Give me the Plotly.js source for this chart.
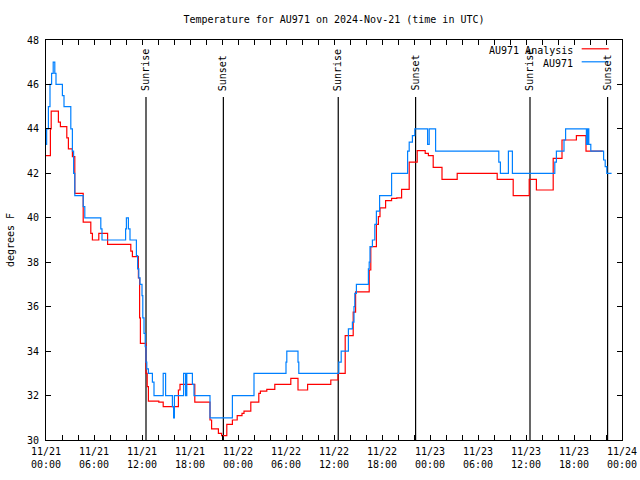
<!DOCTYPE html>
<html>
<head>
<meta charset="utf-8">
<script src="https://cdn.plot.ly/plotly-3.0.1.min.js"></script>
<style>html,body{margin:0;padding:0;background:#fff;}#chart{width:640px;height:480px;}</style>
</head>
<body>
<div id="chart"></div>
<script>
// Hours since 2024-11-21 00:00 UTC
const obsHours = [0.0,0.08,0.3,0.5,0.7,0.9,1.1,1.25,2.05,2.25,3.1,3.3,3.45,3.6,4.65,4.85,6.85,7.0,9.95,10.05,10.3,10.5,11.3,11.45,11.6,11.75,12.0,12.1,12.25,12.4,12.5,12.6,12.8,13.3,13.5,14.65,14.95,15.8,15.95,16.05,17.2,17.45,17.6,18.3,18.5,20.5,23.3,26.0,30.0,30.1,31.5,31.6,36.6,36.9,37.8,38.3,38.5,38.6,38.8,40.3,40.4,40.5,40.8,41.1,41.3,41.7,43.2,45.2,45.4,45.8,46.1,47.7,47.9,48.7,56.6,56.8,57.8,58.3,63.6,63.8,64.75,64.95,67.55,67.7,67.85,68.1,69.7,69.9,70.1,70.7];
const obsTemps = [43.3,44,45,46,46.5,47,46.5,46,45.5,45,44,43,42,41,40.5,40,39.5,39,39.5,40,39.5,39,38.3,37.7,37.3,37,36.5,35.5,34.8,34.2,33.5,33.2,33,32.6,32,33,32,31.5,31,32,33,32,33,32.5,32,31,32,33,33.5,34,33.5,33,33.5,34,35,35.3,36,36.6,37,37.7,38,38.7,39,39.7,40.3,41,42,43,43.4,43.7,44,43.3,44,43,42.5,42,43,42,42.5,43,43.5,44,43.3,44,43.3,43,42.6,42.3,42,42];

const anaHours = [0.0,0.55,0.65,1.55,1.8,2.6,2.8,3.3,3.6,4.65,5.6,5.8,6.6,7.7,10.6,10.8,11.55,11.7,11.8,12.5,12.65,12.8,14.1,14.65,16.55,16.75,18.6,20.5,20.7,21.55,21.95,22.6,23.3,23.9,24.5,24.75,25.6,26.6,26.8,27.6,28.6,30.6,31.5,32.7,35.6,36.5,37.4,38.4,38.7,40.4,40.6,41.3,41.55,41.75,42.45,43.2,43.85,44.45,45.4,46.4,47.4,47.8,48.4,49.5,51.4,56.4,58.4,60.4,61.3,63.4,64.5,66.3,67.5,69.6];
const anaTemps = [42.8,44.0,44.8,44.3,44.1,43.6,43.1,42.75,41.1,39.8,39.3,39.0,39.3,38.8,38.5,38.25,37.3,35.5,34.35,33.0,32.4,31.75,31.7,31.5,32.25,32.5,31.7,30.9,30.5,30.3,30.2,30.7,30.9,31.1,31.2,31.3,31.7,32.1,32.2,32.28,32.5,32.77,32.25,32.5,32.7,33.0,34.7,35.75,36.67,37.65,38.7,39.7,40.05,40.45,40.77,40.87,40.9,41.28,42.5,43.02,42.9,42.8,42.27,41.73,42.0,41.73,41.0,41.73,41.25,42.67,43.5,43.7,43.0,43.0];

const sunHours = [12.5, 22.17, 36.53, 46.2, 60.5, 70.2];
const sunLabels = ["Sunrise","Sunset","Sunrise","Sunset","Sunrise","Sunset"];

const xTickLabels = ["11/21<br>00:00","11/21<br>06:00","11/21<br>12:00","11/21<br>18:00","11/22<br>00:00","11/22<br>06:00","11/22<br>12:00","11/22<br>18:00","11/23<br>00:00","11/23<br>06:00","11/23<br>12:00","11/23<br>18:00","11/24<br>00:00"];
const yTicks = [30,32,34,36,38,40,42,44,46,48];

const seriesNames = ["AU971 Analysis","AU971"];
const seriesColors = ["#ff0000","#0080ff"];

const FONT = "DejaVu Sans Mono, monospace";

const tickvals = [], ticktext = [];
for (let h = 0; h <= 72; h += 2) {
  tickvals.push(h);
  ticktext.push(h % 6 === 0 ? xTickLabels[h / 6] : "");
}

const traces = [
  {x: anaHours, y: anaTemps, type: "scatter", mode: "lines", name: seriesNames[0],
   line: {color: seriesColors[0], width: 1.2, shape: "hv"}, hoverinfo: "skip"},
  {x: obsHours, y: obsTemps, type: "scatter", mode: "lines", name: seriesNames[1],
   line: {color: seriesColors[1], width: 1.2, shape: "hv"}, hoverinfo: "skip"}
];

const shapes = sunHours.map(h => ({
  type: "line", xref: "x", yref: "y", x0: h, x1: h, y0: 30, y1: 45.43,
  line: {color: "#000", width: 1.2}, layer: "below"
}));
const annotations = sunHours.map((h, i) => ({
  x: h, y: 45.62, xref: "x", yref: "y", text: sunLabels[i], textangle: -90,
  showarrow: false, xanchor: "center", yanchor: "bottom",
  font: {family: FONT, size: 10, color: "#000"}
}));

// legend (gnuplot style: text left of sample)
const legY = [0.975, 0.9425];
seriesNames.forEach((n, i) => {
  annotations.push({x: 0.918, y: legY[i], xref: "paper", yref: "paper", text: n,
    showarrow: false, xanchor: "right", yanchor: "middle",
    font: {family: FONT, size: 10, color: "#000"}});
  shapes.push({type: "line", xref: "paper", yref: "paper", x0: 0.930, x1: 0.977,
    y0: legY[i] + 0.003, y1: legY[i] + 0.003, line: {color: seriesColors[i], width: 1.2}});
});

const layout = {
  width: 640, height: 480,
  margin: {l: 46, r: 18, t: 40, b: 40, pad: 0},
  paper_bgcolor: "#fff", plot_bgcolor: "#fff",
  font: {family: FONT, size: 10, color: "#000"},
  showlegend: false,
  title: {text: "Temperature for AU971 on 2024-Nov-21 (time in UTC)",
          x: 0.5, xref: "paper", y: 0.96, yref: "container", yanchor: "middle",
          font: {family: FONT, size: 10, color: "#000"}},
  xaxis: {range: [0, 72], tickmode: "array", tickvals: tickvals, ticktext: ticktext,
          ticks: "inside", ticklen: 5, tickcolor: "#000", showline: true, linecolor: "#000",
          linewidth: 1, mirror: "ticks", showgrid: false, zeroline: false,
          tickfont: {family: FONT, size: 10, color: "#000"}, ticklabelstandoff: 2},
  yaxis: {range: [30, 48], tickmode: "array", tickvals: yTicks,
          ticks: "inside", ticklen: 5, tickcolor: "#000", showline: true, linecolor: "#000",
          linewidth: 1, mirror: "ticks", showgrid: false, zeroline: false,
          tickfont: {family: FONT, size: 10, color: "#000"}, ticklabelstandoff: 4,
          title: {text: "degrees F", standoff: 10, font: {family: FONT, size: 10, color: "#000"}}},
  shapes: shapes,
  annotations: annotations
};

Plotly.newPlot("chart", traces, layout, {staticPlot: true, displayModeBar: false});
</script>
</body>
</html>
